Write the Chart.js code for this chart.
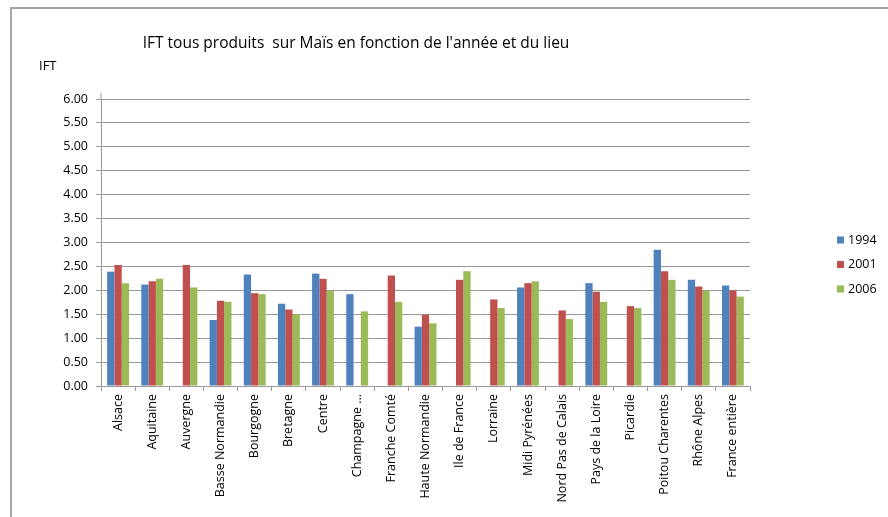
<!DOCTYPE html>
<html lang="fr">
<head>
    <meta charset="UTF-8">
    <title>IFT Maïs</title>
    <script src="https://cdn.jsdelivr.net/npm/chart.js"></script>
    <style>
body {
    margin: 0;
    padding: 0;
    background-color: #fff;
    font-family: "Open Sans", Arial, sans-serif;
}

.wrap {
    position: relative;
    width: 888px;
    height: 517px;
    overflow: hidden;
}

.frame {
    position: absolute;
    left: 10px;
    top: 7px;
    width: 900px;
    height: 540px;
    border-top: 2px solid #a6a6a6;
    border-left: 2px solid #a6a6a6;
}

canvas {
    position: absolute;
    left: 0;
    top: 0;
}
    </style>
</head>
<body>
    <div class="wrap">
        <div class="frame"></div>
        <canvas id="iftChart" width="888" height="517"></canvas>
    </div>

    <script>
        // Regions (x axis)
        const regions = [
            'Alsace', 'Aquitaine', 'Auvergne', 'Basse Normandie', 'Bourgogne',
            'Bretagne', 'Centre', 'Champagne ...', 'Franche Comté', 'Haute Normandie',
            'Ile de France', 'Lorraine', 'Midi Pyrénées', 'Nord Pas de Calais',
            'Pays de la Loire', 'Picardie', 'Poitou Charentes', 'Rhône Alpes', 'France entière'
        ];

        // IFT values per year (null = no data)
        const ift1994 = [2.39, 2.12, null, 1.38, 2.33, 1.72, 2.35, 1.92, null, 1.24,
                         null, null, 2.06, null, 2.15, null, 2.85, 2.22, 2.10];
        const ift2001 = [2.53, 2.19, 2.53, 1.78, 1.94, 1.60, 2.24, null, 2.31, 1.49,
                         2.22, 1.81, 2.15, 1.58, 1.97, 1.67, 2.40, 2.08, 2.00];
        const ift2006 = [2.15, 2.24, 2.06, 1.76, 1.92, 1.50, 1.99, 1.56, 1.76, 1.31,
                         2.40, 1.63, 2.19, 1.40, 1.76, 1.63, 2.22, 1.99, 1.87];

        const years = ['1994', '2001', '2006'];
        const colors = ['#4f81bd', '#c0504d', '#9bbb59'];

        const chartTitle = "IFT tous produits  sur Maïs en fonction de l'année et du lieu";
        const yTitle = 'IFT';

        const textColor = '#000';
        const gridColor = '#999';
        const font = '"Open Sans", sans-serif';

        // Title, axis title and legend drawn by hand (Excel-like placement)
        const extras = {
            id: 'extras',
            afterDraw(chart) {
                const c = chart.ctx;
                c.save();
                c.fillStyle = textColor;
                c.textBaseline = 'middle';
                c.font = '15.5px ' + font;
                c.textAlign = 'center';
                c.fillText(chartTitle, 356, 44);
                c.font = '13px ' + font;
                c.textAlign = 'left';
                c.fillText(yTitle, 39, 66);

                // legend
                c.font = '12.5px ' + font;
                chart.data.datasets.forEach((ds, i) => {
                    const y = 240 + i * 24.5;
                    c.fillStyle = ds.backgroundColor;
                    c.fillRect(837, y - 3.5, 7, 7);
                    c.fillStyle = textColor;
                    c.fillText(ds.label, 848, y);
                });

                // y axis line goes a little above the top gridline
                const x = chart.chartArea.left;
                c.strokeStyle = gridColor;
                c.lineWidth = 1;
                c.beginPath();
                c.moveTo(x, chart.chartArea.top - 6);
                c.lineTo(x, chart.chartArea.top);
                c.stroke();
                c.restore();
            }
        };

        const ctx = document.getElementById('iftChart').getContext('2d');
        const iftChart = new Chart(ctx, {
            type: 'bar',
            data: {
                labels: regions,
                datasets: years.map((y, i) => ({
                    label: y,
                    data: [ift1994, ift2001, ift2006][i],
                    backgroundColor: colors[i],
                    borderWidth: 0,
                    categoryPercentage: 0.64,
                    barPercentage: 1.0,
                })),
            },
            options: {
                responsive: false,
                animation: false,
                layout: {
                    padding: { left: 41, right: 138, top: 99, bottom: 6 }
                },
                plugins: {
                    legend: { display: false },
                    title: { display: false },
                    tooltip: { enabled: false },
                },
                scales: {
                    x: {
                        grid: {
                            display: true,
                            drawOnChartArea: false,
                            drawTicks: true,
                            tickLength: 5,
                            color: gridColor,
                            offset: true,
                        },
                        border: { color: gridColor, width: 1 },
                        ticks: {
                            color: textColor,
                            font: { family: font, size: 12.5 },
                            minRotation: 90,
                            maxRotation: 90,
                            autoSkip: false,
                            padding: 3,
                        },
                        afterFit(scale) { scale.height = 125; },
                    },
                    y: {
                        min: 0,
                        max: 6,
                        grid: {
                            color: gridColor,
                            lineWidth: 1,
                            tickLength: 5,
                        },
                        border: { color: gridColor, width: 1 },
                        ticks: {
                            stepSize: 0.5,
                            color: textColor,
                            font: { family: font, size: 12.5 },
                            padding: 8,
                            callback: v => v.toFixed(2),
                        },
                        afterFit(scale) { scale.width = 60; },
                    },
                },
            },
            plugins: [extras],
        });
    </script>
</body>
</html>
